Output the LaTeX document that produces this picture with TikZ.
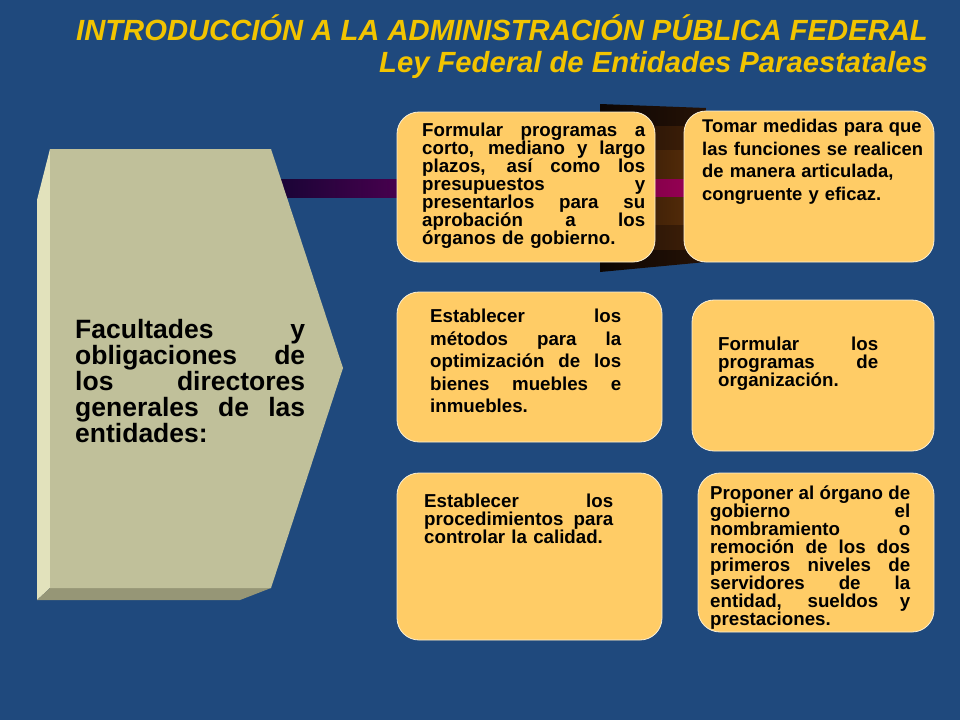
\documentclass[tikz,border=0pt]{standalone}
\usepackage{fontspec}
\setmainfont{Liberation Sans}
\definecolor{bg}{RGB}{31,73,125}
\definecolor{gold}{RGB}{242,196,0}
\definecolor{boxfill}{RGB}{255,204,102}
\definecolor{boxline}{RGB}{250,240,215}
\definecolor{face}{RGB}{192,192,154}
\definecolor{bevl}{RGB}{226,226,188}
\definecolor{bevb}{RGB}{150,150,118}
\definecolor{barl}{RGB}{22,5,52}
\definecolor{barr}{RGB}{72,0,78}
\definecolor{fla}{RGB}{12,6,4}
\definecolor{flb}{RGB}{38,18,6}
\definecolor{flc}{RGB}{28,14,5}
\definecolor{fld}{RGB}{66,33,8}
\definecolor{fle}{RGB}{40,20,5}
\definecolor{flf}{RGB}{92,48,10}
\definecolor{flg}{RGB}{110,0,62}
\definecolor{flh}{RGB}{158,0,88}
\newcommand{\jl}[2]{\leavevmode\hbox to #1{\spaceskip=0.25em plus 1fil\relax #2}}
\tikzset{
  titletext/.style={text=gold, font=\fontsize{29.2}{31}\selectfont\bfseries\itshape, inner sep=0pt},
  obox/.style={draw=boxline, line width=0.8pt, fill=boxfill, rounded corners=22pt, inner sep=0pt, outer sep=0pt},
  btext/.style={anchor=north west, inner sep=0pt, align=left, text=black},
  lefttext/.style={anchor=north west, inner sep=0pt, align=left, text=black, text width=230pt, font=\fontsize{26.5}{26}\selectfont\bfseries}
}
\begin{document}
\begin{tikzpicture}[x=1pt,y=-1pt]
\fill[bg] (0,0) rectangle (960,720);
\useasboundingbox (0,0) rectangle (960,720);
% title
\node[titletext, anchor=base east] (ttl1) at (928,40) {INTRODUCCIÓN A LA ADMINISTRACIÓN PÚBLICA FEDERAL};
\node[titletext, anchor=base east] (ttl2) at (928,72) {Ley Federal de Entidades Paraestatales};
% connecting bar
\shade[left color=barl, right color=barr] (270,179) rectangle (400,197);
% flared connector between the top boxes
\begin{scope}
  \clip (600,104) -- (706,108) -- (706,262) -- (600,272) -- cycle;
  \foreach \ya/\yb/\cl/\cr in {100/126/fla/flb, 126/150/flc/fld, 150/179/fle/flf, 179/197/flg/flh, 197/225/fle/flf, 225/250/flc/fld, 250/276/fla/flb}
    \shade[left color=\cl, right color=\cr] (600,\ya) rectangle (706,\yb);
\end{scope}
% left arrow-shaped panel
\fill[bevl] (37,200) -- (50,149) -- (50,588) -- (37,600) -- cycle;
\fill[bevb] (37,600) -- (50,588) -- (271,588) -- (240,600) -- cycle;
\fill[face] (50,149) -- (271,149) -- (343,368) -- (271,588) -- (50,588) -- cycle;
\node[lefttext] (lt) at (75,319) {\jl{230pt}{Facultades y}\\\jl{230pt}{obligaciones de}\\\jl{230pt}{los directores}\\\jl{230pt}{generales de las}\\entidades:};
% boxes
\node[obox, minimum width=258pt, minimum height=150pt] (b1) at (526,187) {};
\node[obox, minimum width=250pt, minimum height=151pt] (b2) at (809,186.5) {};
\node[obox, minimum width=265pt, minimum height=150pt] (b3) at (529.5,367) {};
\node[obox, minimum width=242pt, minimum height=151pt] (b4) at (813,375.5) {};
\node[obox, minimum width=265pt, minimum height=167pt] (b5) at (529.5,556.5) {};
\node[obox, minimum width=236pt, minimum height=159pt] (b6) at (816,552.5) {};
% box texts
\node[btext, text width=223pt, font=\fontsize{18.7}{17.9}\selectfont\bfseries] (bt1) at (422,123)
 {\jl{223pt}{Formular programas a}\\\jl{223pt}{corto, mediano y largo}\\\jl{223pt}{plazos, así como los}\\\jl{223pt}{presupuestos y}\\\jl{223pt}{presentarlos para su}\\\jl{223pt}{aprobación a los}\\órganos de gobierno.};
\node[btext, text width=224pt, font=\fontsize{18.4}{22.6}\selectfont\bfseries] (bt2) at (702,119)
 {Tomar medidas para que\\las funciones se realicen\\de manera articulada,\\congruente y eficaz.};
\node[btext, text width=191pt, font=\fontsize{18.7}{22.5}\selectfont\bfseries] (bt3) at (430,309)
 {\jl{191pt}{Establecer los}\\\jl{191pt}{métodos para la}\\\jl{191pt}{optimización de los}\\\jl{191pt}{bienes muebles e}\\inmuebles.};
\node[btext, text width=160pt, font=\fontsize{18.7}{18}\selectfont\bfseries] (bt4) at (718,336.5)
 {\jl{160pt}{Formular los}\\\jl{160pt}{programas de}\\organización.};
\node[btext, text width=189pt, font=\fontsize{18.7}{18}\selectfont\bfseries] (bt5) at (424,493.5)
 {\jl{189pt}{Establecer los}\\\jl{189pt}{procedimientos para}\\controlar la calidad.};
\node[btext, text width=200pt, font=\fontsize{18.7}{18}\selectfont\bfseries] (bt6) at (710,486)
 {\jl{200pt}{Proponer al órgano de}\\\jl{200pt}{gobierno el}\\\jl{200pt}{nombramiento o}\\\jl{200pt}{remoción de los dos}\\\jl{200pt}{primeros niveles de}\\\jl{200pt}{servidores de la}\\\jl{200pt}{entidad, sueldos y}\\prestaciones.};
\end{tikzpicture}
\end{document}
